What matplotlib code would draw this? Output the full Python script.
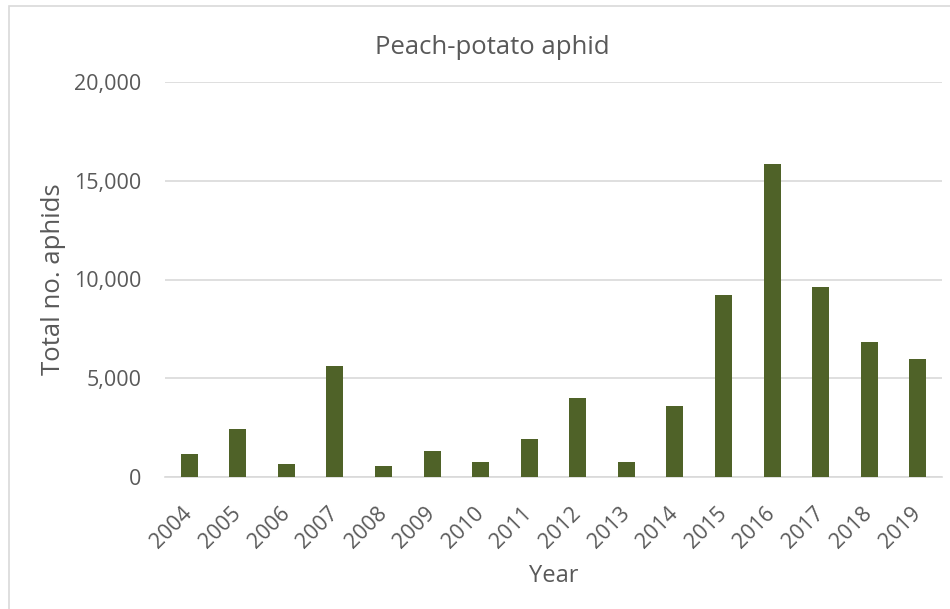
import numpy as np
import matplotlib.pyplot as plt
from matplotlib.patches import Rectangle
from matplotlib.ticker import FuncFormatter

# Annual totals, peach-potato aphid
years = ['2004', '2005', '2006', '2007', '2008', '2009', '2010', '2011',
         '2012', '2013', '2014', '2015', '2016', '2017', '2018', '2019']
totals = [1150, 2415, 675, 5640, 540, 1330, 760, 1940,
          4000, 780, 3600, 9215, 15865, 9600, 6835, 5990]

bar_colour = '#4F6228'
text_colour = '#595959'
grid_colour = '#D9D9D9'

plt.rcParams['font.family'] = ['Open Sans', 'DejaVu Sans']

fig = plt.figure(figsize=(9.5, 6.09), dpi=100)
ax = fig.add_axes([165/950, 1-477/609, (942-165)/950, (477-82)/609])

x = np.arange(len(years))
ax.bar(x, totals, width=0.35, color=bar_colour, zorder=3)

ax.set_xlim(-0.5, len(years)-0.5)
ax.set_ylim(0, 20000)
ax.set_yticks(np.arange(0, 20001, 5000))
ax.yaxis.set_major_formatter(FuncFormatter(lambda v, p: '{:,.0f}'.format(v)))
ax.set_xticks(x)
ax.set_xticklabels(years, rotation=45, ha='right', va='center', rotation_mode='anchor')

ax.grid(axis='y', color=grid_colour, linewidth=1.2, zorder=0)
for s in ['top', 'right', 'left']:
    ax.spines[s].set_visible(False)
ax.spines['bottom'].set_color(grid_colour)
ax.spines['bottom'].set_linewidth(1.2)
ax.tick_params(axis='both', length=0, labelsize=15.5, colors=text_colour)
ax.tick_params(axis='y', pad=17)
ax.tick_params(axis='x', pad=24)

# title sits centred over the whole chart area, not the plot box
fig.text(492/950, 1-47/609, 'Peach-potato aphid', fontsize=18.5, color=text_colour,
         ha='center', va='center')
ax.set_xlabel('Year', fontsize=17, color=text_colour, labelpad=8)
ax.set_ylabel('Total no. aphids', fontsize=18.5, color=text_colour, labelpad=6)

# chart area frame
fig.add_artist(Rectangle((9/950, -0.1), 1.2, 1.1 - 6/609, transform=fig.transFigure,
                         fill=False, edgecolor=grid_colour, linewidth=1.2))

fig.savefig('out.png', dpi=100, facecolor='white')
